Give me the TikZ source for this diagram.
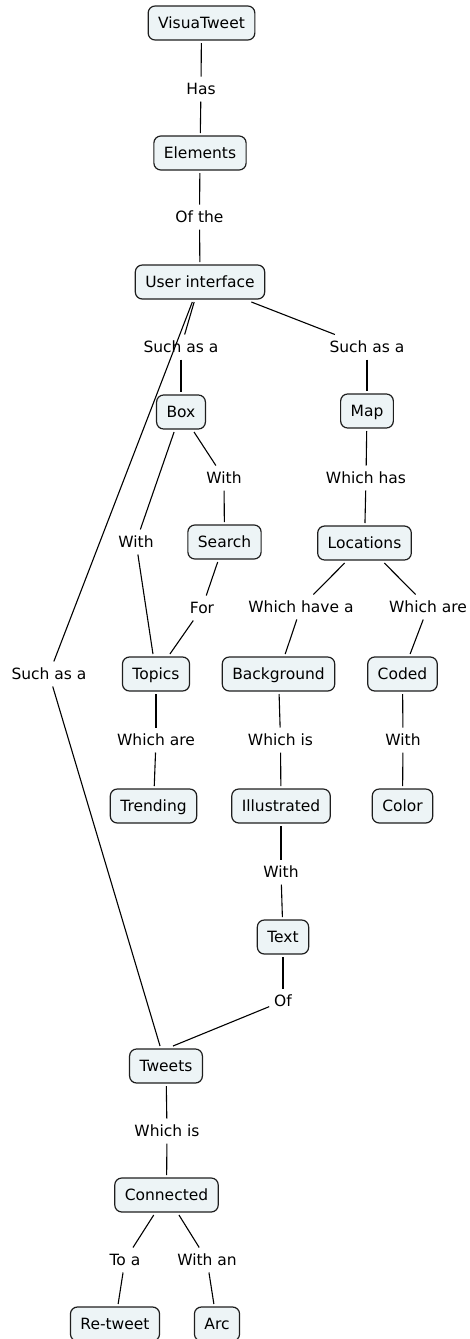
\documentclass[tikz,border=0pt]{standalone}
\usepackage{fontspec}
\setmainfont{DejaVu Sans}
\definecolor{conceptfill}{RGB}{237,244,246}
\definecolor{conceptline}{RGB}{30,30,30}
\begin{document}
\begin{tikzpicture}[x=1pt,y=-1pt,
  font=\fontsize{15.5}{18}\selectfont,
  concept/.style={draw=conceptline,fill=conceptfill,line width=1.2pt,
    rounded corners=7pt,minimum height=34pt,inner xsep=10pt,
    text height=12pt,text depth=1pt,outer sep=3pt},
  link/.style={inner xsep=2pt,inner ysep=3pt,text height=12pt,
    text depth=1pt,outer sep=3pt},
  conn/.style={line width=1.1pt,draw=black}]
\useasboundingbox (0,0) rectangle (469,1339);

% concepts
\node[concept] (vt) at (201.5,23) {VisuaTweet};
\node[concept] (el) at (200,153) {Elements};
\node[concept] (ui) at (200,282) {User interface};
\node[concept] (box) at (181,412) {Box};
\node[concept] (map) at (367,411) {Map};
\node[concept] (search) at (224.5,542) {Search};
\node[concept] (loc) at (364.5,543) {Locations};
\node[concept] (topics) at (156,674) {Topics};
\node[concept] (bg) at (278.5,674) {Background};
\node[concept] (coded) at (402.5,674) {Coded};
\node[concept] (trend) at (153.5,806) {Trending};
\node[concept] (ill) at (281,806) {Illustrated};
\node[concept] (color) at (402.5,806) {Color};
\node[concept] (text) at (283,937) {Text};
\node[concept] (tweets) at (166,1066) {Tweets};
\node[concept] (conn) at (166.5,1195) {Connected};
\node[concept] (rt) at (115,1324) {Re-tweet};
\node[concept] (arc) at (217,1324) {Arc};

% linking phrases
\node[link] (l1) at (201,89) {Has};
\node[link] (l2) at (199.5,217) {Of the};
\node[link] (l3) at (181,347) {Such as a};
\node[link] (l4) at (367,347) {Such as a};
\node[link] (l5) at (224,478) {With};
\node[link] (l6) at (366,478) {Which has};
\node[link] (l7) at (136,542) {With};
\node[link] (l8) at (202,608) {For};
\node[link] (l9) at (301,607) {Which have a};
\node[link] (l10) at (428,607) {Which are};
\node[link] (l11) at (49,674) {Such as a};
\node[link] (l12) at (156,740) {Which are};
\node[link] (l13) at (280.5,740) {Which is};
\node[link] (l14) at (403,740) {With};
\node[link] (l15) at (281,872) {With};
\node[link] (l16) at (283,1001) {Of};
\node[link] (l17) at (167,1131) {Which is};
\node[link] (l18) at (125,1260) {To a};
\node[link] (l19) at (207,1260) {With an};

% connectors
\draw[conn] (vt) -- (l1);   \draw[conn] (l1) -- (el);
\draw[conn] (el) -- (l2);   \draw[conn] (l2) -- (ui);
\draw[conn] (ui) -- (l3);   \draw[conn] (l3) -- (box);
\draw[conn] (ui) -- (l4);   \draw[conn] (l4) -- (map);
\draw[conn] (ui) -- (l11);  \draw[conn] (l11) -- (tweets);
\draw[conn] (box) -- (l5);  \draw[conn] (l5) -- (search);
\draw[conn] (box) -- (l7);  \draw[conn] (l7) -- (topics);
\draw[conn] (search) -- (l8); \draw[conn] (l8) -- (topics);
\draw[conn] (map) -- (l6);  \draw[conn] (l6) -- (loc);
\draw[conn] (loc) -- (l9);  \draw[conn] (l9) -- (bg);
\draw[conn] (loc) -- (l10); \draw[conn] (l10) -- (coded);
\draw[conn] (topics) -- (l12); \draw[conn] (l12) -- (trend);
\draw[conn] (bg) -- (l13);  \draw[conn] (l13) -- (ill);
\draw[conn] (coded) -- (l14); \draw[conn] (l14) -- (color);
\draw[conn] (ill) -- (l15); \draw[conn] (l15) -- (text);
\draw[conn] (text) -- (l16); \draw[conn] (l16) -- ([xshift=7pt]tweets.north);
\draw[conn] (tweets) -- (l17); \draw[conn] (l17) -- (conn);
\draw[conn] (conn) -- (l18); \draw[conn] (l18) -- (rt);
\draw[conn] (conn) -- (l19); \draw[conn] (l19) -- (arc);
\end{tikzpicture}
\end{document}
